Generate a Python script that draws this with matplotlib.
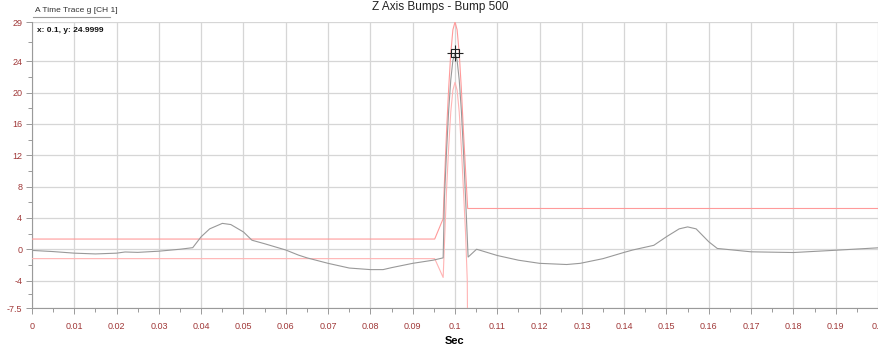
import matplotlib
matplotlib.use("Agg")
import matplotlib.pyplot as plt
from matplotlib.ticker import FixedLocator, MultipleLocator

plt.rcParams['font.family'] = ['Liberation Sans Narrow', 'Liberation Sans', 'DejaVu Sans']

# Measured signal (g) vs time (s)
sig_t = [0.0, 0.005, 0.01, 0.015, 0.02, 0.022, 0.025, 0.03, 0.035, 0.038, 0.04, 0.042, 0.045,
         0.047, 0.05, 0.052, 0.055, 0.06, 0.063, 0.065, 0.07, 0.075, 0.08, 0.083, 0.085,
         0.09, 0.0948, 0.0972, 0.0975, 0.098, 0.0985, 0.099, 0.0995, 0.1, 0.1005, 0.101,
         0.1015, 0.102, 0.1025, 0.1031, 0.1051, 0.11, 0.115, 0.12, 0.1264, 0.1296, 0.135,
         0.14, 0.142, 0.147, 0.15, 0.153, 0.155, 0.157, 0.16, 0.162, 0.17, 0.18, 0.19, 0.2]
sig_g = [-0.15, -0.3, -0.5, -0.6, -0.5, -0.35, -0.4, -0.25, 0.0, 0.2, 1.6, 2.6, 3.3,
         3.15, 2.2, 1.15, 0.7, -0.1, -0.75, -1.1, -1.8, -2.4, -2.6, -2.6, -2.35,
         -1.8, -1.4, -1.1, 6.5, 12.5, 17.7, 21.6, 24.1, 24.9999, 24.1, 21.6,
         17.7, 12.5, 6.5, -1.0, 0.0, -0.8, -1.4, -1.8, -1.95, -1.8, -1.2,
         -0.4, -0.1, 0.5, 1.6, 2.6, 2.85, 2.6, 0.95, 0.1, -0.33, -0.42, -0.13, 0.18]

# Upper tolerance limit
up_t = [0.0, 0.0952, 0.0972, 0.0975, 0.098, 0.0985, 0.099, 0.0995, 0.1, 0.1005, 0.101,
        0.1015, 0.102, 0.1025, 0.103, 0.2]
up_g = [1.3, 1.3, 3.9, 8.5, 15.0, 20.5, 25.0, 28.0, 29.0, 28.0, 25.0,
        20.5, 15.0, 10.0, 5.2, 5.2]

# Lower tolerance limit
lo_t = [0.0, 0.0952, 0.0972, 0.0976, 0.098, 0.0985, 0.099, 0.0995, 0.1, 0.1005, 0.101,
        0.1015, 0.102, 0.1025, 0.1029, 0.103]
lo_g = [-1.2, -1.2, -3.6, 2.0, 7.5, 13.0, 17.5, 20.3, 21.3, 20.3, 17.5,
        13.0, 7.5, 2.0, -4.0, -12.0]

ytick_vals = [-7.5, -4, 0, 4, 8, 12, 16, 20, 24, 29]
ytick_minor = [-5.75, -2, 2, 6, 10, 14, 18, 22, 26.5]
xtick_vals = [0.0, 0.01, 0.02, 0.03, 0.04, 0.05, 0.06, 0.07, 0.08, 0.09, 0.1,
              0.11, 0.12, 0.13, 0.14, 0.15, 0.16, 0.17, 0.18, 0.19, 0.2]
xtick_labels = ['0', '0.01', '0.02', '0.03', '0.04', '0.05', '0.06', '0.07', '0.08', '0.09', '0.1',
                '0.11', '0.12', '0.13', '0.14', '0.15', '0.16', '0.17', '0.18', '0.19', '0.2']
ytick_labels = ['-7.5', '-4', '0', '4', '8', '12', '16', '20', '24', '29']

cursor_x, cursor_y = 0.1, 24.9999

fig = plt.figure(figsize=(8.79, 3.45), dpi=100)
ax = fig.add_axes([32/879, 1-308/345, 846/879, 286/345])

lab_col = '#a03838'
grid_col = '#d6d6d6'

ax.plot(up_t, up_g, color='#ff9a9a', lw=0.8, zorder=3)
ax.plot(lo_t, lo_g, color='#ffb4b4', lw=0.8, zorder=3)
ax.plot(sig_t, sig_g, color='#999999', lw=0.8, zorder=4)

ax.plot([cursor_x], [cursor_y], marker='s', ms=6, mfc='none', mec='#222222', mew=0.8, zorder=6)
ax.plot([cursor_x], [cursor_y], marker='+', ms=12, mec='#222222', mew=0.8, zorder=6)

ax.set_xlim(0, 0.2)
ax.set_ylim(-7.5, 29)
ax.xaxis.set_major_locator(FixedLocator(xtick_vals))
ax.set_xticklabels(xtick_labels)
ax.xaxis.set_minor_locator(MultipleLocator(0.005))
ax.yaxis.set_major_locator(FixedLocator(ytick_vals))
ax.set_yticklabels(ytick_labels)
ax.yaxis.set_minor_locator(FixedLocator(ytick_minor))

ax.grid(True, which='major', color=grid_col, lw=0.9)
for s in ['top', 'right']:
    ax.spines[s].set_visible(False)
for s in ['left', 'bottom']:
    ax.spines[s].set_color('#9a9a9a')
    ax.spines[s].set_linewidth(0.8)

ax.tick_params(axis='both', which='major', length=4, color='#9a9a9a', labelsize=6.5,
               labelcolor=lab_col, width=0.7)
ax.tick_params(axis='both', which='minor', length=3, color='#9a9a9a', width=0.7)
ax.tick_params(axis='x', pad=6)
ax.tick_params(axis='y', pad=3)

ax.set_xlabel('Sec', fontsize=8, fontweight='bold', labelpad=4)

fig.text(440/879, 1-7/345, 'Z Axis Bumps - Bump 500', ha='center', va='center', fontsize=8.5, color='#222222')
fig.text(35/879, 1-11/345, 'A Time Trace g [CH 1]', ha='left', va='center', fontsize=6, color='#333333')
fig.add_artist(plt.Line2D([33/879, 110/879], [1-16.5/345, 1-16.5/345], color='#999999', lw=0.8))
fig.text(37/879, 1-31/345, 'x: 0.1, y: 24.9999', ha='left', va='center', fontsize=6, fontweight='bold', color='#111111')

fig.savefig('out.png', dpi=100)
